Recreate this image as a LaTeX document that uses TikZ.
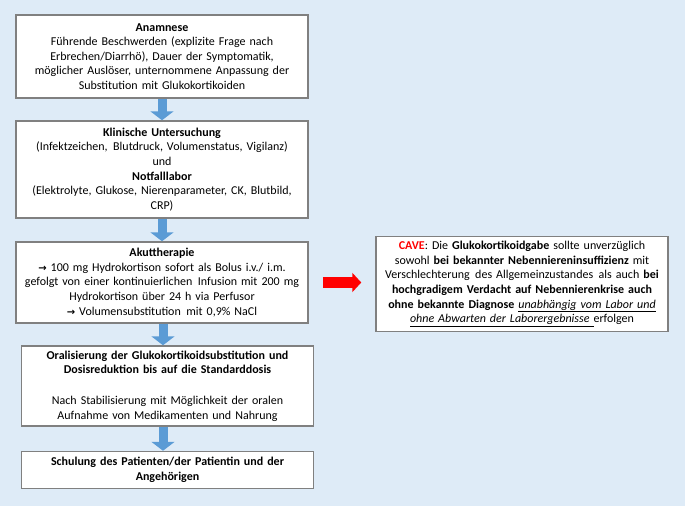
\documentclass[tikz,border=0pt]{standalone}
\usepackage{fontspec}
\setmainfont{Carlito}
\newfontfamily\arrowfont{DejaVu Sans}
\usetikzlibrary{arrows.meta}
\definecolor{bgblue}{RGB}{222,235,247}
\definecolor{flowblue}{RGB}{91,155,213}
\definecolor{boxgray}{RGB}{128,128,128}
\newcommand{\thenarrow}{{\arrowfont\bfseries\fontsize{10}{10}\selectfont →}}
\tikzset{
  stepbox/.style={draw=boxgray, line width=1.5pt, fill=white, align=center,
    text width=284pt, inner xsep=4pt, inner ysep=2pt,
    font=\fontsize{12}{14.6}\selectfont},
  downarrow/.style={draw=flowblue, line width=9pt, -{Triangle[width=23pt,length=9pt]}},
  cavearrow/.style={draw=red, line width=11pt, -{Triangle[width=19pt,length=9pt]},
    shorten <=14pt, shorten >=14pt}
}
\begin{document}
\begin{tikzpicture}[x=1pt, y=-1pt]
\fill [bgblue] (0,0) rectangle (685,506);
\useasboundingbox (0,0) rectangle (685,506);

\node (anam) at (162,56.5) [stepbox, minimum height=83pt]
  {\textbf{Anamnese}\\
   Führende Beschwerden (explizite Frage nach\\
   Erbrechen/Diarrhö), Dauer der Symptomatik,\\
   möglicher Auslöser, unternommene Anpassung der\\
   Substitution mit Glukokortikoiden};

\node (klin) at (162,169.5) [stepbox, minimum height=97pt]
  {\textbf{Klinische Untersuchung}\\
   (Infektzeichen,\hspace{1.5pt} Blutdruck, Volumenstatus, Vigilanz)\\
   und\\
   \textbf{Notfalllabor}\\
   (Elektrolyte, Glukose, Nierenparameter, CK, Blutbild,\\
   CRP)};

\node (akut) at (162,282.5) [stepbox, minimum height=81pt]
  {\textbf{Akuttherapie}\\
   \thenarrow\ 100 mg Hydrokortison sofort als Bolus i.v./ i.m.\\
   gefolgt von einer kontinuierlichen\hspace{1.5pt} Infusion mit 200 mg\\
   Hydrokortison über 24 h via Perfusor\\
   \thenarrow\ Volumensubstitution\hspace{1.5pt} mit 0,9\% NaCl};

\node (oral) at (167.5,386) [stepbox, minimum height=80pt]
  {\textbf{Oralisierung der Glukokortikoidsubstitution und}\\
   \textbf{Dosisreduktion bis auf die Standarddosis}\\[16pt]
   Nach Stabilisierung mit Möglichkeit der oralen\\
   Aufnahme von Medikamenten und Nahrung};

\node (schul) at (167.5,470) [stepbox, minimum height=37pt]
  {\textbf{Schulung des Patienten/der Patientin und der}\\
   \textbf{Angehörigen}};

\node (cave) at (522,284) [stepbox, minimum height=95pt]
  {\textcolor{red}{\textbf{CAVE}}: Die \textbf{Glukokortikoidgabe} sollte unverzüglich\\
   sowohl \textbf{bei bekannter Nebenniereninsuffizienz} mit\\
   Verschlechterung\hspace{1.5pt} des Allgemeinzustandes\hspace{1.5pt} als auch \textbf{bei}\\
   \textbf{hochgradigem Verdacht auf Nebennierenkrise auch}\\
   \textbf{ohne bekannte Diagnose} \underline{\textit{unabhängig vom Labor und}}\\
   \underline{\textit{ohne Abwarten der Laborergebnisse\ }}erfolgen};

\draw [downarrow] (anam.south) -- (klin.north);
\draw [downarrow] (klin.south) -- (akut.north);
\draw [downarrow] ([xshift=1pt]akut.south) -- ([xshift=1pt]akut.south |- oral.north);
\draw [downarrow] ([xshift=-4.5pt]oral.south) -- ([xshift=-4.5pt]oral.south |- schul.north);
\draw [cavearrow] (akut.east) -- (akut.east -| cave.west);
\end{tikzpicture}
\end{document}
